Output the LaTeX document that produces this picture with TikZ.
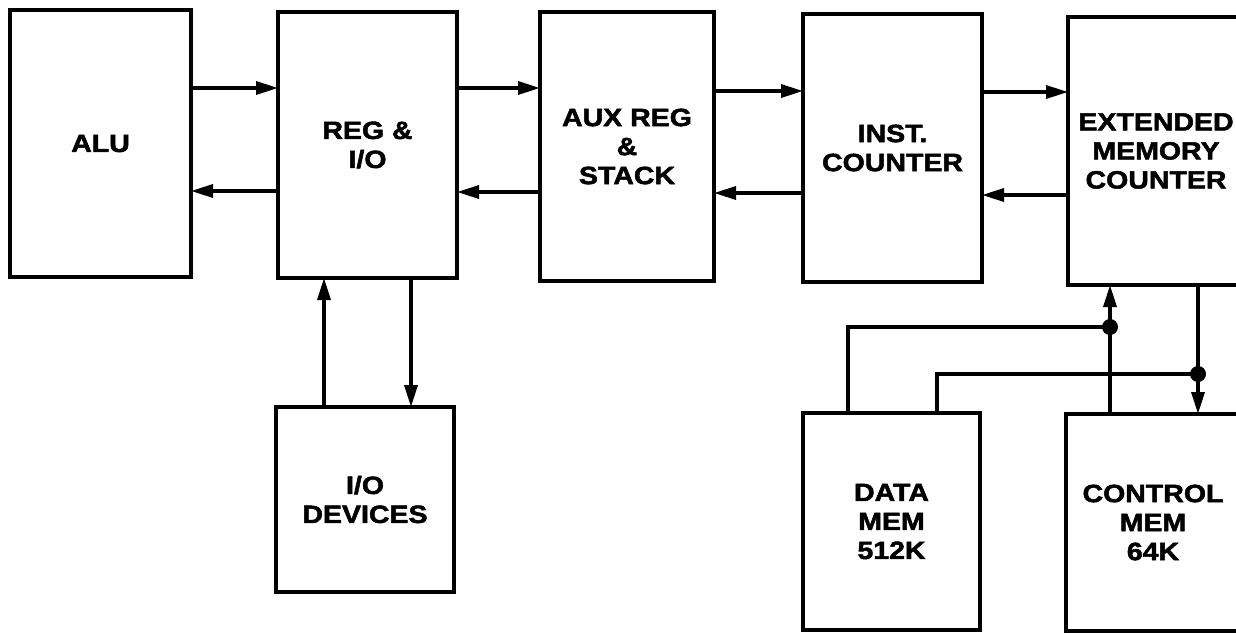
\documentclass[tikz,border=0pt]{standalone}
\usepackage{fontspec}
\usetikzlibrary{arrows.meta}
\newfontfamily\lblfont{Liberation Sans}[FakeStretch=1.14, FakeBold=2]
\tikzset{
  blk/.style={draw, line width=4pt, inner sep=0pt, outer sep=0pt, align=center,
    font=\lblfont\bfseries\fontsize{25}{29}\selectfont},
  conn/.style={line width=3.5pt, -{Triangle[length=22pt,width=13pt]}},
  wire/.style={line width=3.5pt},
  junc/.style={fill=black, circle, inner sep=0pt, minimum size=16pt}
}
\begin{document}
\begin{tikzpicture}[x=1pt,y=-1pt]
\useasboundingbox (0,0) rectangle (1236,632);
\clip (0,0) rectangle (1236,632);
% boxes
\node[blk, minimum width=181pt, minimum height=267pt] (alu) at (100.5,143.5) {ALU};
\node[blk, minimum width=179pt, minimum height=266pt] (reg) at (367.5,145) {REG \&\\I/O};
\node[blk, minimum width=174pt, minimum height=269pt] (aux) at (627,146.5) {AUX REG\\\&\\STACK};
\node[blk, minimum width=179pt, minimum height=268pt] (inst) at (892.5,148) {INST.\\COUNTER};
\node[blk, minimum width=176pt, minimum height=268pt] (ext) at (1156,151) {EXTENDED\\MEMORY\\COUNTER};
\node[blk, minimum width=178pt, minimum height=185pt] (io) at (365,499.5) {I/O\\DEVICES};
\node[blk, minimum width=177pt, minimum height=217pt] (data) at (891.5,521.5) {DATA\\MEM\\512K};
\node[blk, minimum width=174pt, minimum height=217pt] (ctrl) at (1153,522.5) {CONTROL\\MEM\\64K};
% horizontal connectors
\draw[conn] (alu.east |- 0,88) -- (reg.west |- 0,88);
\draw[conn] (reg.west |- 0,191) -- (alu.east |- 0,191);
\draw[conn] (reg.east |- 0,88) -- (aux.west |- 0,88);
\draw[conn] (aux.west |- 0,192) -- (reg.east |- 0,192);
\draw[conn] (aux.east |- 0,91) -- (inst.west |- 0,91);
\draw[conn] (inst.west |- 0,193) -- (aux.east |- 0,193);
\draw[conn] (inst.east |- 0,92) -- (ext.west |- 0,92);
\draw[conn] (ext.west |- 0,195) -- (inst.east |- 0,195);
% vertical connectors REG <-> I/O
\draw[conn] (io.north -| 324,0) -- (reg.south -| 324,0);
\draw[conn] (reg.south -| 411,0) -- (io.north -| 411,0);
% memory connectors
\draw[conn] (ctrl.north -| 1110,0) -- (ext.south -| 1110,0);
\draw[conn] (ext.south -| 1198,0) -- (ctrl.north -| 1198,0);
\node[junc] (j1) at (1110,327) {};
\node[junc] (j2) at (1198,374) {};
\draw[wire] (data.north -| 848,0) |- (j1.center);
\draw[wire] (data.north -| 937,0) |- (j2.center);
\end{tikzpicture}
\end{document}
